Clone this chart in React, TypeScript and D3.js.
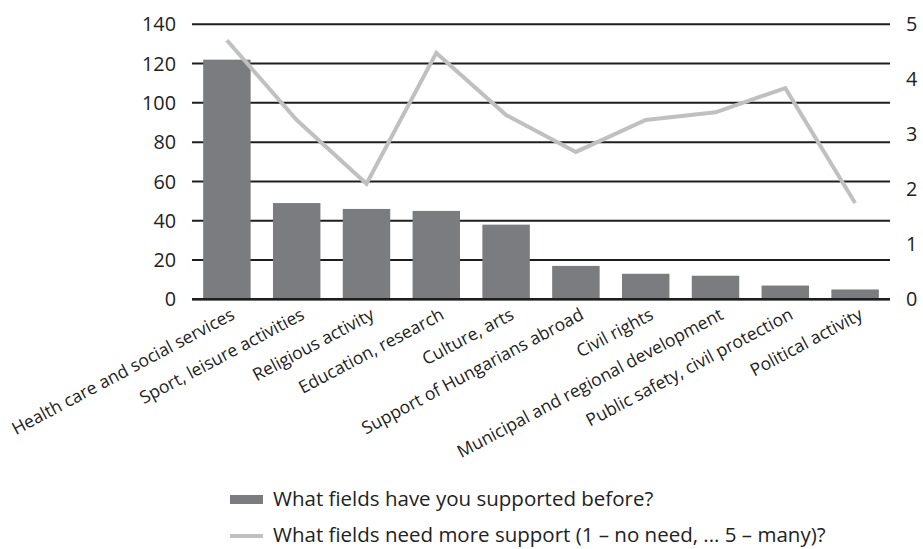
import React from 'react';
import * as d3 from 'd3';

const categories = [
  'Health care and social services',
  'Sport, leisure activities',
  'Religious activity',
  'Education, research',
  'Culture, arts',
  'Support of Hungarians abroad',
  'Civil rights',
  'Municipal and regional development',
  'Public safety, civil protection',
  'Political activity',
];
const supportedBefore = [122, 49, 46, 45, 38, 17, 13, 12, 7, 5];
const needMoreSupport = [4.71, 3.26, 2.1, 4.48, 3.35, 2.68, 3.26, 3.4, 3.84, 1.75];
const leftTicks = [0, 20, 40, 60, 80, 100, 120, 140];
const rightTicks = [0, 1, 2, 3, 4, 5];
const legendBar = 'What fields have you supported before?';
const legendLine = 'What fields need more support (1 – no need, ... 5 – many)?';

const W = 923;
const H = 549;
const left = 192;
const right = 890;
const top = 24.3;
const bottom = 299.3;
const font = '"Open Sans", "DejaVu Sans", sans-serif';

export default function App() {
  const x = d3.scaleBand().domain(categories).range([left, right]).paddingInner(0.32).paddingOuter(0.16);
  const yL = d3.scaleLinear().domain([0, 140]).range([bottom, top]);
  const yR = d3.scaleLinear().domain([0, 5]).range([bottom, top]);
  const line = d3.line<number>()
    .x((_, i) => (x(categories[i]) ?? 0) + x.bandwidth() / 2)
    .y(d => yR(d));

  return (
    <svg width={W} height={H} style={{ position: 'absolute', left: 0, top: 0, background: '#fff' }}>
      {/* gridlines */}
      {leftTicks.map(t => (
        <line key={t} x1={left} x2={right} y1={yL(t)} y2={yL(t)} stroke="#1e1e1e" strokeWidth={2} />
      ))}
      {/* bars */}
      {supportedBefore.map((v, i) => (
        <rect key={i} x={x(categories[i])} y={yL(v)} width={x.bandwidth()} height={bottom - yL(v)} fill="#7b7c80" />
      ))}
      <line x1={left} x2={right} y1={bottom} y2={bottom} stroke="#1e1e1e" strokeWidth={2.5} />
      {/* line series */}
      <path d={line(needMoreSupport) ?? ''} fill="none" stroke="#c0c0c2" strokeWidth={4} strokeLinejoin="miter" />
      {/* left axis */}
      {leftTicks.map(t => (
        <text key={t} x={176} y={yL(t)} dy="0.36em" textAnchor="end" fontFamily={font} fontSize={19.8} fill="#222">{t}</text>
      ))}
      {/* right axis */}
      {rightTicks.map(t => (
        <text key={t} x={906} y={yR(t)} dy="0.36em" textAnchor="start" fontFamily={font} fontSize={19.8} fill="#222">{t}</text>
      ))}
      {/* category labels */}
      {categories.map(c => {
        const cx = (x(c) ?? 0) + x.bandwidth() / 2 + 9;
        const cy = bottom + 19;
        return (
          <text key={c} transform={`translate(${cx},${cy}) rotate(-28)`} textAnchor="end" fontFamily={font} fontSize={17.5} fill="#222">{c}</text>
        );
      })}
      {/* legend */}
      <rect x={230} y={495} width={33} height={9} fill="#7b7c80" />
      <text x={273} y={499} dy="0.36em" fontFamily={font} fontSize={20.5} fill="#222">{legendBar}</text>
      <line x1={230} x2={263} y1={536} y2={536} stroke="#c0c0c2" strokeWidth={4} />
      <text x={273} y={535} dy="0.36em" fontFamily={font} fontSize={20.5} fill="#222">{legendLine}</text>
    </svg>
  );
}
